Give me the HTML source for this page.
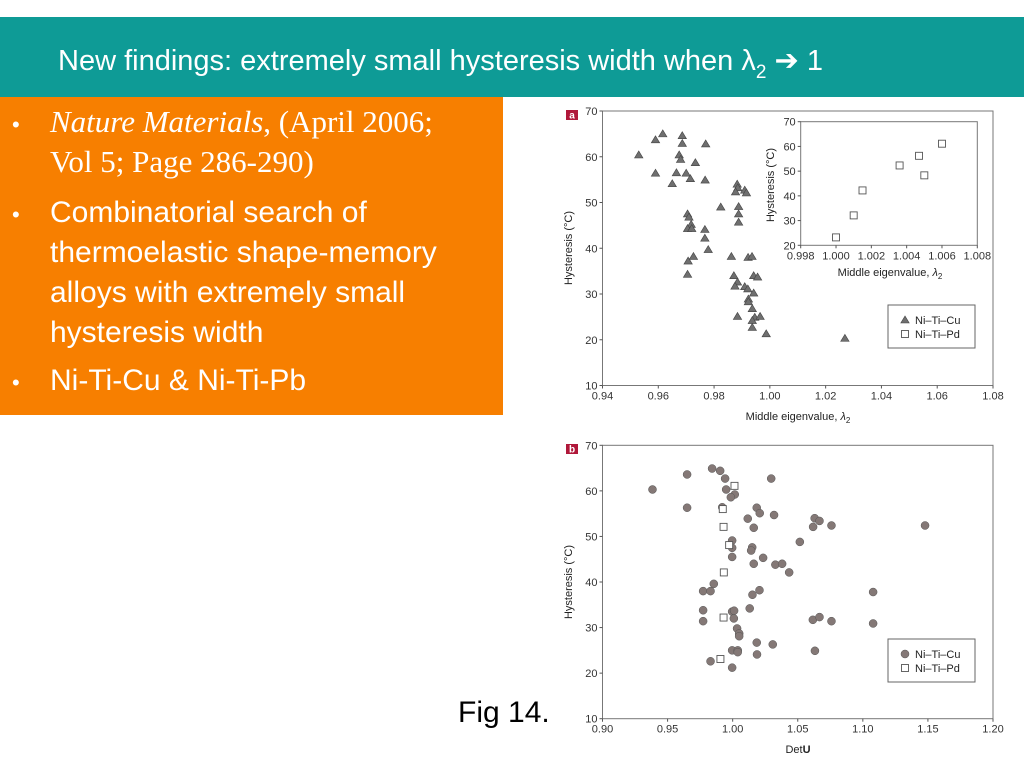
<!DOCTYPE html>
<html><head><meta charset="utf-8"><style>
body{margin:0;width:1024px;height:768px;overflow:hidden;background:#fff;font-family:"Liberation Sans",sans-serif}
svg{position:absolute;left:0;top:0}
</style></head><body>
<svg id="s" width="1024" height="768" xmlns="http://www.w3.org/2000/svg">
<rect x="0" y="17" width="1024" height="80" fill="#0E9B96"/>
<text x="58" y="70" font-size="29" fill="#fff">New findings: extremely small hysteresis width when λ<tspan font-size="19" dy="8">2</tspan><tspan dy="-8"> ➔ 1</tspan></text>
<rect x="0" y="97" width="503" height="318" fill="#F77F00"/>
<g fill="#fff">
<text x="12" y="132" font-size="22">•</text>
<text x="50" y="132" font-size="31" font-family="Liberation Serif,serif"><tspan font-style="italic">Nature Materials</tspan>, (April 2006;</text>
<text x="50" y="172" font-size="31" font-family="Liberation Serif,serif">Vol 5; Page 286-290)</text>
<text x="12" y="222" font-size="22">•</text>
<text x="50" y="222" font-size="30">Combinatorial search of</text>
<text x="50" y="262" font-size="30">thermoelastic shape-memory</text>
<text x="50" y="302" font-size="30">alloys with extremely small</text>
<text x="50" y="342" font-size="30">hysteresis width</text>
<text x="12" y="390" font-size="22">•</text>
<text x="50" y="390" font-size="30">Ni-Ti-Cu &amp; Ni-Ti-Pb</text>
</g>
<text x="458" y="722" font-size="30" fill="#000">Fig 14.</text>
<g id="charts"></g>
</svg>
<script>
// Chart a: Ni-Ti-Cu (triangles)
const aCuX=[0.953,0.959,0.9616,0.959,0.9686,0.9686,0.9675,0.968,0.9733,0.977,0.9665,0.970,0.965,0.9715,0.9768,0.9705,0.971,0.9718,0.9705,0.972,0.9767,0.9767,0.9779,0.9726,0.9707,0.9705,0.9824,0.9883,0.9885,0.9877,0.991,0.9916,0.9888,0.9888,0.9888,0.9862,0.9922,0.9936,0.9871,0.9942,0.9956,0.9884,0.9875,0.991,0.9921,0.9942,0.9923,0.9923,0.9937,0.9884,0.9946,0.9965,0.9937,0.9937,0.9987,1.0269];
const aCuY=[60.4,63.7,65,56.4,64.6,62.9,60.4,59.4,58.7,62.8,56.5,56.4,54.1,55.2,54.9,47.5,46.8,45.2,44.3,44.3,44.1,42.2,39.7,38.2,37.2,34.3,49.0,54.0,53.2,52.3,52.7,52.1,49.1,47.5,45.7,38.2,38.0,38.2,34.0,34.0,33.7,32.6,31.7,31.6,31.1,30.2,28.9,28.3,26.8,25.1,24.9,25.1,24.2,22.7,21.3,20.3];
// Inset: Ni-Ti-Pd
const insetX=[1.000,1.001,1.0015,1.0036,1.0047,1.005,1.006];
const insetY=[23.2,32.1,42.2,52.3,56.2,48.3,61.1];
// Chart b
const bCuX=[0.9384,0.965,0.965,0.9842,0.9904,0.9942,0.995,1.0016,0.9986,0.992,1.0296,1.0185,1.0208,1.0318,1.0116,1.0162,1.063,1.0667,1.0618,1.0759,1.1478,1.0516,0.9996,0.9996,1.015,1.0142,0.9996,1.0234,1.0162,1.0328,1.038,1.0434,0.9855,0.9773,0.983,1.0206,1.0152,1.1079,0.9773,0.9996,1.0011,1.0131,1.0009,0.9773,1.0616,1.0667,1.0759,1.1079,1.0034,1.005,1.005,1.0185,1.0308,0.9996,1.0039,1.0039,1.0187,1.0632,0.983,0.9996];
const bCuY=[60.3,63.6,56.3,64.9,64.4,62.7,60.3,59.2,58.6,56.4,62.7,56.3,55.1,54.7,53.9,51.9,54.0,53.4,52.1,52.4,52.4,48.8,49.1,47.5,47.6,46.9,45.5,45.3,44.0,43.8,44.0,42.1,39.6,38.0,38.0,38.2,37.2,37.8,33.8,33.5,33.7,34.2,32.0,31.4,31.7,32.3,31.4,30.9,29.8,28.7,28.1,26.7,26.3,25.0,25.0,24.6,24.1,24.9,22.6,21.2];
const bPdX=[1.0014,0.9924,0.993,0.9973,0.9932,0.993,0.9906];
const bPdY=[61.1,56.0,52.1,48.1,42.1,32.2,23.1];
const aTicksX=[0.94,0.96,0.98,1.00,1.02,1.04,1.06,1.08];
const aTickLbl=["0.94","0.96","0.98","1.00","1.02","1.04","1.06","1.08"];
const insTicksX=[0.998,1.000,1.002,1.004,1.006,1.008];
const insTickLbl=["0.998","1.000","1.002","1.004","1.006","1.008"];
const bTicksX=[0.90,0.95,1.00,1.05,1.10,1.15,1.20];
const bTickLbl=["0.90","0.95","1.00","1.05","1.10","1.15","1.20"];
const yTicks=[10,20,30,40,50,60,70];
const insYTicks=[20,30,40,50,60,70];

const NS="http://www.w3.org/2000/svg";
const root=document.getElementById('charts');
function mk(tag,attrs,parent,txt){const e=document.createElementNS(NS,tag);for(const k in attrs)e.setAttribute(k,attrs[k]);if(txt!==undefined)e.textContent=txt;(parent||root).appendChild(e);return e;}
function scale(d0,d1,r0,r1){return v=>r0+(v-d0)/(d1-d0)*(r1-r0);}
function axes(g,L,R,T,B,xs,ys,xt,xl,yt,fs,name){
  const fr=mk('rect',{x:L,y:T,width:R-L,height:B-T,fill:'none',stroke:'#777','stroke-width':1},g);
  
  
  xt.forEach((v,i)=>{const x=xs(v);mk('line',{x1:x,x2:x,y1:B,y2:B+3,stroke:'#555'},g);
    const t=mk('text',{x:x,y:B+14,'font-size':fs,'text-anchor':'middle',fill:'#333'},g,xl[i]);
    
    });
  yt.forEach(v=>{const y=ys(v);mk('line',{x1:L-3,x2:L,y1:y,y2:y,stroke:'#555'},g);
    const t=mk('text',{x:L-5,y:y+4,'font-size':fs,'text-anchor':'end',fill:'#333'},g,String(v));
    
    });
}
function tri(g,x,y,n){const p=mk('polygon',{points:`${x},${y-4} ${x-4.2},${y+3} ${x+4.2},${y+3}`,fill:'#6f6f6f',stroke:'#444','stroke-width':0.6},g);
  
  }
function sq(g,x,y,n){const p=mk('rect',{x:x-3.5,y:y-3.5,width:7,height:7,fill:'#fff',stroke:'#555','stroke-width':0.9},g);
  
  }
function circ(g,x,y,n){const p=mk('circle',{cx:x,cy:y,r:4,fill:'#847876',stroke:'#555','stroke-width':0.5},g);
  
  }
function badge(g,x,y,l){const r=mk('rect',{x:x,y:y,width:12,height:10,fill:'#b0183a'},g);
  
  
  mk('text',{x:x+6,y:y+8.5,'font-size':10,'font-weight':'bold','text-anchor':'middle',fill:'#fff'},g,l);}
function legend(g,x,y,marker){const r=mk('rect',{x:x,y:y,width:87,height:43,fill:'#fff',stroke:'#666'},g);
  
  
  marker(g,x+17,y+15,'legend-marker-cu');sq(g,x+17,y+29,'legend-marker-pd');
  const a=mk('text',{x:x+27,y:y+19,'font-size':11,fill:'#222'},g,'Ni–Ti–Cu');
  
  
  const b=mk('text',{x:x+27,y:y+33,'font-size':11,fill:'#222'},g,'Ni–Ti–Pd');
  
  }

// Chart a
const ga=mk('g',{});


const aL=602.5,aR=993,aT=111,aB=385.5;
const axs=scale(0.94,1.08,aL,aR), ays=scale(10,70,aB,aT);
axes(ga,aL,aR,aT,aB,axs,ays,aTicksX,aTickLbl,yTicks,11,'chart-a');
aCuX.forEach((v,i)=>tri(ga,axs(v),ays(aCuY[i]),'point-a-cu'));
badge(ga,566,110,'a');
let t=mk('text',{x:798,y:420,'font-size':11,'text-anchor':'middle',fill:'#222'},ga);
t.innerHTML='Middle eigenvalue, <tspan font-style="italic">λ</tspan><tspan font-size="8" dy="3">2</tspan>';


t=mk('text',{x:572,y:248,'font-size':11,'text-anchor':'middle',fill:'#222',transform:'rotate(-90 572 248)'},ga,'Hysteresis (°C)');


legend(ga,888,305,tri);
// inset
const iL=800.7,iR=977.3,iT=121.7,iB=245.3;
const ixs=scale(0.998,1.008,iL,iR), iys=scale(20,70,iB,iT);
const gi=mk('g',{},ga);


mk('rect',{x:iL,y:iT,width:iR-iL,height:iB-iT,fill:'#fff'},gi);
axes(gi,iL,iR,iT,iB,ixs,iys,insTicksX,insTickLbl,insYTicks,11,'inset');
insetX.forEach((v,i)=>sq(gi,ixs(v),iys(insetY[i]),'point-inset-pd'));
t=mk('text',{x:890,y:276,'font-size':11,'text-anchor':'middle',fill:'#222'},gi);
t.innerHTML='Middle eigenvalue, <tspan font-style="italic">λ</tspan><tspan font-size="8" dy="3">2</tspan>';


t=mk('text',{x:774,y:185,'font-size':11,'text-anchor':'middle',fill:'#222',transform:'rotate(-90 774 185)'},gi,'Hysteresis (°C)');



// Chart b
const gb=mk('g',{});


const bL=602.5,bR=993,bT=445.3,bB=718.7;
const bxs=scale(0.90,1.20,bL,bR), bys=scale(10,70,bB,bT);
axes(gb,bL,bR,bT,bB,bxs,bys,bTicksX,bTickLbl,yTicks,11,'chart-b');
bCuX.forEach((v,i)=>circ(gb,bxs(v),bys(bCuY[i]),'point-b-cu'));
bPdX.forEach((v,i)=>sq(gb,bxs(v),bys(bPdY[i]),'point-b-pd'));
badge(gb,566,444,'b');
t=mk('text',{x:798,y:753,'font-size':11,'text-anchor':'middle',fill:'#222'},gb);
t.innerHTML='Det<tspan font-weight="bold">U</tspan>';


t=mk('text',{x:572,y:582,'font-size':11,'text-anchor':'middle',fill:'#222',transform:'rotate(-90 572 582)'},gb,'Hysteresis (°C)');


legend(gb,888,639,circ);
</script>
</body></html>
